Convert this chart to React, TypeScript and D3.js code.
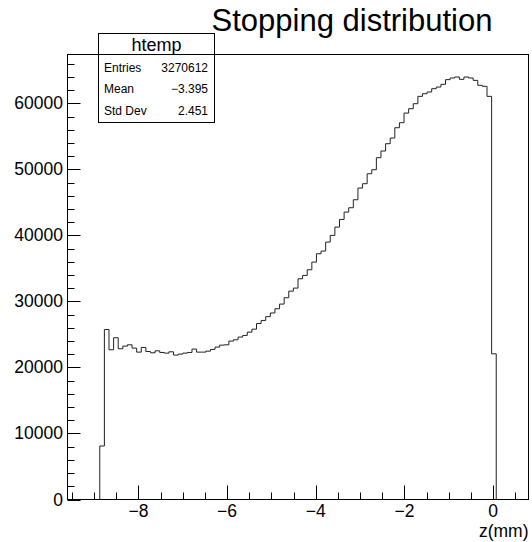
import React from "react";
import * as d3 from "d3";

// Histogram definition (ROOT htemp, 100 bins)
const histMin = -9.6;
const histMax = 0.8;
const nBins = 100;
const counts: number[] = [
  0, 0, 0, 0, 0, 0, 0, 8100, 25750, 22680,
  24500, 22830, 23230, 23430, 22930, 22320, 23030, 22420, 22220, 22520,
  22270, 22170, 22370, 21870, 22020, 22170, 22270, 22780, 22320, 22320,
  22470, 22730, 23080, 23380, 23430, 23990, 24190, 24600, 24850, 25350,
  25800, 26650, 27120, 27700, 28250, 28890, 29600, 30560, 31560, 32020,
  33430, 33940, 34800, 35960, 37220, 37630, 38990, 40000, 41260, 42420,
  43530, 44190, 45400, 47170, 47830, 49340, 49950, 51770, 52780, 53890,
  54750, 56310, 57070, 58530, 59190, 59950, 61060, 61460, 61720, 62220,
  62470, 62880, 63590, 63840, 63990, 63640, 63990, 63840, 63480, 62730,
  62580, 61060, 22070, 0, 0, 0, 0, 0, 0, 0,
];
const yMax = 67400;

const xMajorTicks = [-8, -6, -4, -2, 0];
const xMinorStep = 0.5;
const yMajorTicks = [0, 10000, 20000, 30000, 40000, 50000, 60000];
const yMinorStep = 2000;

const title = "Stopping distribution";
const xTitle = "z(mm)";
const statsName = "htemp";
const statsLabels = ["Entries", "Mean", "Std Dev"];
const statsValues = ["3270612", "\u22123.395", "2.451"];

const FONT = "'Liberation Sans', Arial, Helvetica, sans-serif";

export default function App() {
  const W = 532, H = 542;
  const left = 67.5, right = 528.5, top = 54.5, bottom = 499.5;
  const x = d3.scaleLinear().domain([histMin, histMax]).range([left, right]);
  const y = d3.scaleLinear().domain([0, yMax]).range([bottom, top]);
  const bw = (histMax - histMin) / nBins;

  const pts: [number, number][] = [[histMin, 0]];
  counts.forEach((c, i) => {
    const lo = histMin + i * bw;
    pts.push([lo, c], [lo + bw, c]);
  });
  pts.push([histMax, 0]);
  const line = d3.line<[number, number]>().x(d => x(d[0])).y(d => y(d[1]));
  const path = line(pts) || "";

  const xMinor = d3.range(Math.ceil(histMin / xMinorStep) * xMinorStep, histMax + 1e-9, xMinorStep);
  const yMinor = d3.range(0, yMax + 1e-9, yMinorStep);

  const fmtX = (v: number) => (v < 0 ? "\u2212" + Math.abs(v) : String(v));

  const sbL = 98.5, sbR = 214.5, sbT = 33.5, sbB = 122.5, sbSep = 54.5;

  return (
    <svg width={W} height={H} style={{ position: "absolute", left: 0, top: 0, display: "block", background: "#fff" }}
      fontFamily={FONT}>
      <rect x={0} y={0} width={W} height={H} fill="#fff" />
      {/* histogram */}
      <path d={path} fill="none" stroke="#222" strokeWidth={1} />
      {/* frame */}
      <rect x={left} y={top} width={right - left} height={bottom - top} fill="none" stroke="#000" strokeWidth={1} />
      {/* x ticks */}
      {xMinor.map((v, i) => {
        const major = xMajorTicks.some(t => Math.abs(t - v) < 1e-6);
        const px = Math.round(x(v)) + 0.5;
        return <line key={"xm" + i} x1={px} x2={px} y1={bottom} y2={bottom - (major ? 14 : 7)} stroke="#000" strokeWidth={1} />;
      })}
      {xMajorTicks.map(v => (
        <text key={"xl" + v} x={x(v)} y={517} fontSize={17.5} textAnchor="middle" fill="#000">{fmtX(v)}</text>
      ))}
      <text x={right} y={537} fontSize={17.5} textAnchor="end" fill="#000">{xTitle}</text>
      {/* y ticks */}
      {yMinor.map((v, i) => {
        const major = yMajorTicks.includes(v);
        const py = Math.round(y(v)) + 0.5;
        return <line key={"ym" + i} x1={left} x2={left + (major ? 13 : 7)} y1={py} y2={py} stroke="#000" strokeWidth={1} />;
      })}
      {yMajorTicks.map(v => (
        <text key={"yl" + v} x={63} y={y(v) + 6} fontSize={17.5} textAnchor="end" fill="#000">{v}</text>
      ))}
      {/* title */}
      <text x={352} y={31} fontSize={31} textAnchor="middle" fill="#000">{title}</text>
      {/* stats box */}
      <rect x={sbL} y={sbT} width={sbR - sbL} height={sbB - sbT} fill="#fff" stroke="#000" strokeWidth={1} />
      <line x1={sbL} x2={sbR} y1={sbSep} y2={sbSep} stroke="#000" strokeWidth={1} />
      <text x={(sbL + sbR) / 2} y={50.5} fontSize={18} textAnchor="middle" fill="#000">{statsName}</text>
      {statsLabels.map((l, i) => (
        <g key={l}>
          <text x={104} y={72 + i * 21.3} fontSize={12} fill="#000">{l}</text>
          <text x={208} y={72 + i * 21.3} fontSize={12} textAnchor="end" fill="#000">{statsValues[i]}</text>
        </g>
      ))}
    </svg>
  );
}
